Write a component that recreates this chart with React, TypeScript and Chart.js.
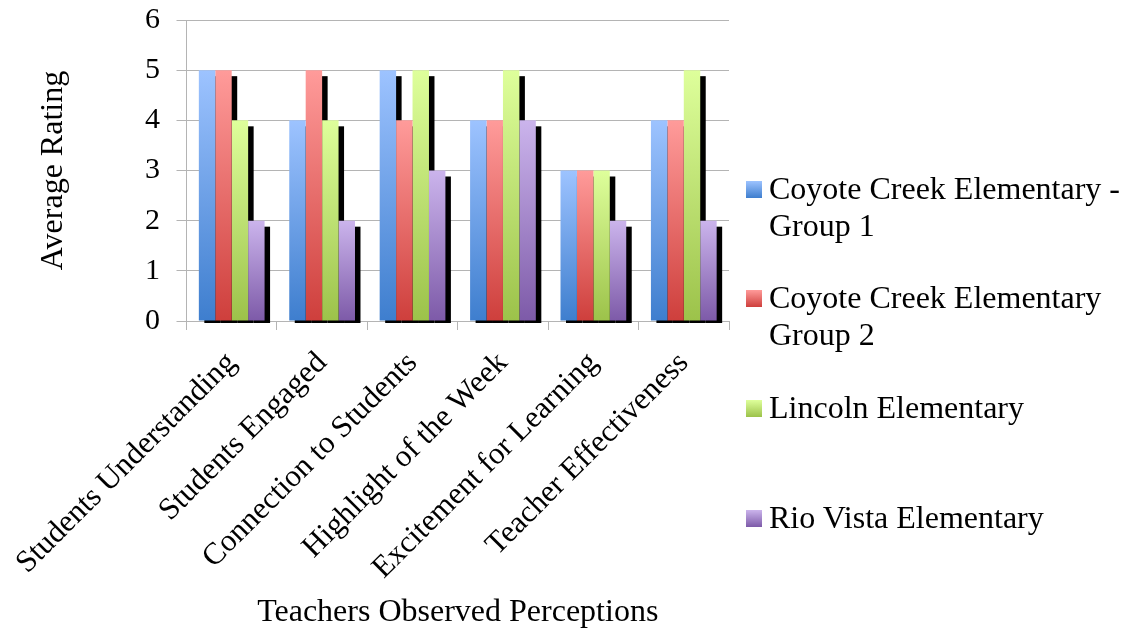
import React, { useEffect, useRef } from "react";
import { Chart, registerables } from "chart.js";

Chart.register(...registerables);

const categories = [
  "Students Understanding",
  "Students Engaged",
  "Connection to Students",
  "Highlight of the Week",
  "Excitement for Learning",
  "Teacher Effectiveness",
];

const seriesNames = [
  "Coyote Creek Elementary - Group 1",
  "Coyote Creek Elementary Group 2",
  "Lincoln Elementary",
  "Rio Vista Elementary",
];

const coyoteGroup1 = [5, 4, 5, 4, 3, 4];
const coyoteGroup2 = [5, 5, 4, 4, 3, 4];
const lincoln = [4, 4, 5, 5, 3, 5];
const rioVista = [2, 2, 3, 4, 2, 2];

const seriesValues = [coyoteGroup1, coyoteGroup2, lincoln, rioVista];

const topColors = ["#9DC3FF", "#FF9B9A", "#DEFF9B", "#CBB4EC"];
const bottomColors = ["#3E7ECE", "#CE3F3C", "#9CC24A", "#7D5AA8"];

const yMin = 0;
const yMax = 6;
const yStep = 1;

const FONT = '"Liberation Serif", "Times New Roman", serif';

const shadowPlugin = {
  id: "barShadow",
  beforeDatasetsDraw(chart: any) {
    const { ctx, chartArea } = chart;
    ctx.save();
    ctx.beginPath();
    ctx.rect(chartArea.left, chartArea.top, chartArea.right - chartArea.left + 10, chartArea.bottom - chartArea.top + 2);
    ctx.clip();
    ctx.fillStyle = "#000000";
    chart.data.datasets.forEach((_: any, di: number) => {
      const meta = chart.getDatasetMeta(di);
      meta.data.forEach((el: any) => {
        const p = el.getProps(["x", "y", "base", "width"], true);
        ctx.fillRect(p.x - p.width / 2 + 5.5, p.y + 6, p.width, p.base - p.y);
      });
    });
    ctx.restore();
  },
};

const clearPadding = (s: any) => {
  s.paddingTop = 0;
  s.paddingBottom = 0;
  s.paddingLeft = 0;
  s.paddingRight = 0;
};

function App() {
  const canvasRef = useRef<HTMLCanvasElement | null>(null);

  useEffect(() => {
    const canvas = canvasRef.current;
    if (!canvas) return;
    const chart = new Chart(canvas, {
      type: "bar",
      data: {
        labels: categories,
        datasets: seriesValues.map((vals, i) => ({
          label: seriesNames[i],
          data: vals,
          borderWidth: 0,
          categoryPercentage: 0.727,
          barPercentage: 1,
          backgroundColor: (c: any) => {
            const ch = c.chart;
            if (!ch.chartArea || c.type !== "data" || !ch.scales || !ch.scales.y) return topColors[i];
            const ys = ch.scales.y;
            const top = ys.getPixelForValue(c.raw);
            const base = ys.getPixelForValue(0);
            if (!isFinite(top) || !isFinite(base) || base - top < 1) return topColors[i];
            const g = ch.ctx.createLinearGradient(0, top, 0, base);
            g.addColorStop(0, topColors[i]);
            g.addColorStop(1, bottomColors[i]);
            return g;
          },
        })),
      },
      options: {
        animation: false,
        responsive: false,
        maintainAspectRatio: false,
        layout: { padding: { left: 0, right: 395, top: 20, bottom: 0 } },
        plugins: {
          legend: { display: false },
          tooltip: { enabled: false },
        },
        scales: {
          y: {
            min: yMin,
            max: yMax,
            ticks: {
              stepSize: yStep,
              color: "#000000",
              font: { family: FONT, size: 30 },
              padding: 16.5,
            },
            grid: { color: "#B4B4B4", tickLength: 10, lineWidth: 1 },
            border: { color: "#B4B4B4" },
            title: {
              display: true,
              text: "Average Rating",
              color: "#000000",
              font: { family: FONT, size: 32 },
              padding: { top: 34, bottom: 0 },
            },
            afterFit: (s: any) => {
              s.width = 186.5;
              clearPadding(s);
            },
          },
          x: {
            ticks: {
              color: "#000000",
              font: { family: FONT, size: 31 },
              maxRotation: 45,
              minRotation: 45,
              padding: 15,
            },
            grid: { color: "#B4B4B4", drawOnChartArea: false, tickLength: 9, offset: true },
            border: { color: "#B4B4B4" },
            title: {
              display: true,
              text: "Teachers Observed Perceptions",
              color: "#000000",
              font: { family: FONT, size: 32 },
              padding: { top: 0, bottom: 1.5 },
            },
            afterFit: (s: any) => {
              s.height = 312;
              clearPadding(s);
            },
          },
        },
      },
      plugins: [shadowPlugin],
    });
    return () => chart.destroy();
  }, []);

  const legendTops = [170, 279, 389, 499];

  return (
    <div
      style={{
        position: "fixed",
        left: 0,
        top: 0,
        width: 1124,
        height: 633,
        background: "#ffffff",
        overflow: "hidden",
      }}
    >
      <canvas ref={canvasRef} width={1124} height={633} style={{ position: "absolute", left: 0, top: 0 }} />
      {seriesNames.map((name, i) => (
        <div
          key={name}
          style={{
            position: "absolute",
            left: 746,
            top: legendTops[i],
            width: 380,
            fontFamily: FONT,
            fontSize: 32,
            lineHeight: "37px",
            color: "#000000",
          }}
        >
          <div
            style={{
              position: "absolute",
              left: 0,
              top: 11,
              width: 16,
              height: 17,
              background: `linear-gradient(to bottom, ${topColors[i]}, ${bottomColors[i]})`,
            }}
          />
          <div style={{ marginLeft: 23, width: 356 }}>{name}</div>
        </div>
      ))}
    </div>
  );
}

export default App;
